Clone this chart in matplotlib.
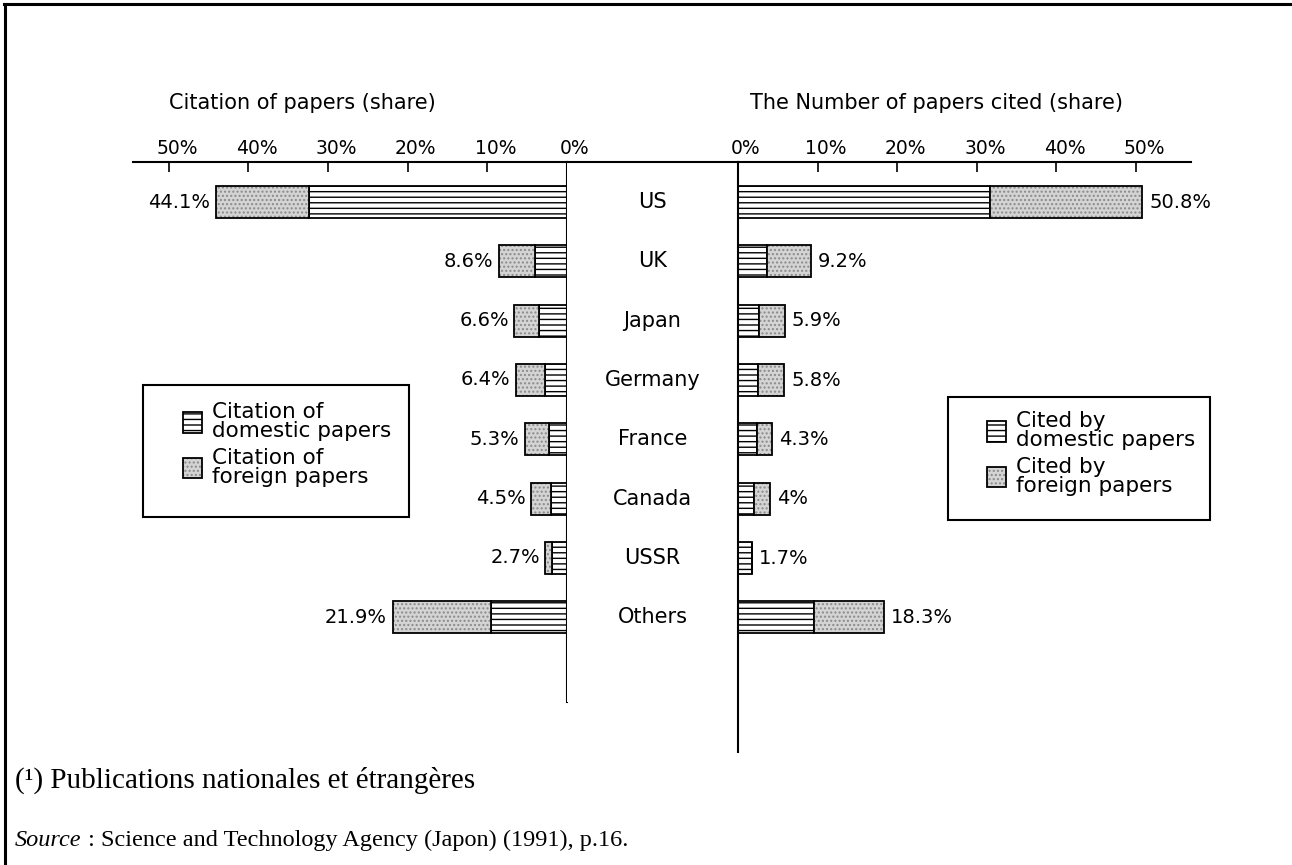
"""Citation shares by country: citing papers vs papers cited (butterfly bar chart)."""

import matplotlib

matplotlib.use("Agg")
import matplotlib.pyplot as plt
import numpy as np
from matplotlib.legend_handler import HandlerTuple
from matplotlib.lines import Line2D
from matplotlib.patches import Patch, Rectangle
import matplotlib.transforms as mtransforms

countries = ["US", "UK", "Japan", "Germany", "France", "Canada", "USSR", "Others"]

# left panel: citation of papers (share, %)
citing_total = [44.1, 8.6, 6.6, 6.4, 5.3, 4.5, 2.7, 21.9]
citing_domestic = [32.4, 4.0, 3.5, 2.7, 2.2, 2.0, 1.9, 9.6]

# right panel: number of papers cited (share, %)
cited_total = [50.8, 9.2, 5.9, 5.8, 4.3, 4.0, 1.7, 18.3]
cited_domestic = [31.7, 3.6, 2.6, 2.5, 2.4, 2.0, 1.7, 9.5]

ticks = [0, 10, 20, 30, 40, 50]
tick_labels = ["0%", "10%", "20%", "30%", "40%", "50%"]

W, H = 1292, 865
plt.rcParams["font.family"] = "DejaVu Sans"
plt.rcParams["hatch.linewidth"] = 1.0

SANS = 15
BAR_H = 0.54


def px_box(x0, y0, x1, y1):
    # pixel box (top-left origin) -> figure fraction rect
    return [x0 / W, 1 - y1 / H, (x1 - x0) / W, (y1 - y0) / H]


def draw_bars(ax, total, domestic):
    y = np.arange(len(countries))
    total = np.array(total)
    domestic = np.array(domestic)
    foreign = total - domestic
    ax.barh(y, domestic, height=BAR_H, color="white", edgecolor="black",
            hatch="---", linewidth=1.3)
    ax.barh(y, foreign, left=domestic, height=BAR_H, color="#d4d4d4",
            edgecolor="#8a8a8a", hatch="....", linewidth=0)
    ax.barh(y, foreign, left=domestic, height=BAR_H, fill=False,
            edgecolor="black", linewidth=1.3)


def style_axis(ax, keep):
    for side, sp in ax.spines.items():
        sp.set_visible(side in keep)
        sp.set_linewidth(1.5)
    ax.set_yticks([])
    ax.xaxis.tick_top()
    ax.set_xticks(ticks)
    ax.set_xticklabels(tick_labels, fontsize=13.5)
    ax.tick_params(axis="x", direction="in", length=7, width=1.2, pad=3)
    shift = mtransforms.ScaledTranslation(8 / 100, 0, ax.figure.dpi_scale_trans)
    for lbl in ax.get_xticklabels():
        lbl.set_transform(lbl.get_transform() + shift)


fig = plt.figure(figsize=(W / 100, H / 100), dpi=100)

ax_l = fig.add_axes(px_box(133, 162, 567, 702))
ax_c = fig.add_axes(px_box(567, 162, 738, 702))
ax_r = fig.add_axes(px_box(738, 162, 1191, 752))

draw_bars(ax_l, citing_total, citing_domestic)
ax_l.set_xlim(54.5, 0)
ax_l.set_ylim(8.43, -0.675)
style_axis(ax_l, ["top", "right"])

draw_bars(ax_r, cited_total, cited_domestic)
ax_r.set_xlim(0, 56.9)
ax_r.set_ylim(9.27, -0.675)
style_axis(ax_r, ["top", "left"])

# centre strip with country names
ax_c.set_xlim(0, 1)
ax_c.set_ylim(8.43, -0.675)
for side, sp in ax_c.spines.items():
    sp.set_visible(side == "top")
    sp.set_linewidth(1.5)
ax_c.set_xticks([])
ax_c.set_yticks([])
for i, name in enumerate(countries):
    ax_c.text(0.5, i, name, ha="center", va="center", fontsize=15)

for i, v in enumerate(citing_total):
    ax_l.annotate(f"{v:g}%", xy=(v, i), xytext=(-4, 0), textcoords="offset points",
                  ha="right", va="center", fontsize=14)
for i, v in enumerate(cited_total):
    ax_r.annotate(f"{v:g}%", xy=(v, i), xytext=(5, 0), textcoords="offset points",
                  ha="left", va="center", fontsize=14)

fig.text(169 / W, 1 - 109 / H, "Citation of papers (share)", fontsize=SANS, va="baseline")
fig.text(750 / W, 1 - 109 / H, "The Number of papers cited (share)", fontsize=SANS,
         va="baseline")

# legends
dom_patch = Patch(facecolor="white", edgecolor="black", hatch="---", linewidth=1.3)
for_fill = Patch(facecolor="#d4d4d4", edgecolor="#8a8a8a", hatch="....", linewidth=0)
for_edge = Patch(fill=False, edgecolor="black", linewidth=1.3)
handles = [dom_patch, (for_fill, for_edge)]

legend_specs = [
    (["Citation of\ndomestic papers", "Citation of\nforeign papers"], (183, 402),
     (143, 385, 409, 517)),
    (["Cited by\ndomestic papers", "Cited by\nforeign papers"], (987, 411),
     (948, 397, 1210, 520)),
]
for labels, (lx, ly), (bx0, by0, bx1, by1) in legend_specs:
    leg = fig.legend(handles, labels, loc="upper left",
                     bbox_to_anchor=(lx / W, 1 - ly / H), frameon=False,
                     borderpad=0, borderaxespad=0, handlelength=0.9,
                     handleheight=1.1, handletextpad=0.45, labelspacing=0.3,
                     fontsize=15.5, handler_map={tuple: HandlerTuple(ndivide=1)})
    for t in leg.get_texts():
        t.set_linespacing(0.95)
    fig.add_artist(Rectangle((bx0 / W, 1 - by1 / H), (bx1 - bx0) / W, (by1 - by0) / H,
                             transform=fig.transFigure, fill=False,
                             edgecolor="black", linewidth=1.5))

# page frame (top and left rules)
fig.add_artist(Line2D([4 / W, 1], [1 - 4 / H, 1 - 4 / H], transform=fig.transFigure,
                      color="black", linewidth=2.2))
fig.add_artist(Line2D([5 / W, 5 / W], [0, 1 - 4 / H], transform=fig.transFigure,
                      color="black", linewidth=2.2))

# footnotes
fig.text(15 / W, 1 - 788 / H, "(\u00b9) Publications nationales et étrangères",
         fontfamily="Liberation Serif", fontsize=21, va="baseline")
src = fig.text(15 / W, 1 - 846 / H, "Source", fontfamily="Liberation Serif",
               fontstyle="italic", fontsize=17.5, va="baseline")
ax_c.annotate(" : Science and Technology Agency (Japon) (1991), p.16.",
              xy=(1, 0), xycoords=src, xytext=(0, 0), textcoords="offset points",
              fontfamily="Liberation Serif", fontsize=17.5, va="bottom",
              annotation_clip=False)

fig.savefig("out.png", dpi=100)
